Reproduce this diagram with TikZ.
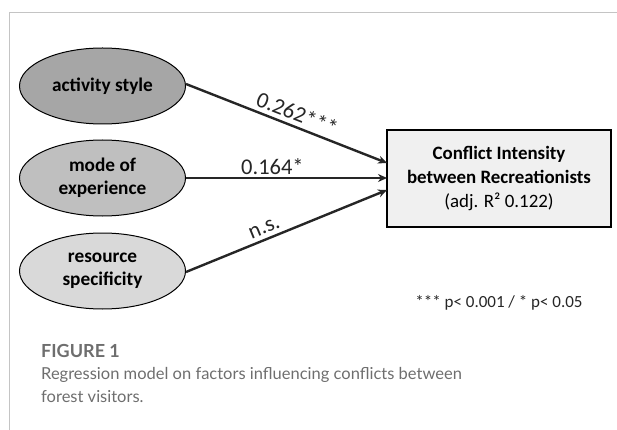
\documentclass[tikz,border=0pt]{standalone}
\usepackage{fontspec}
\setmainfont{Carlito}
\newfontfamily\capfont{Lato}
\usetikzlibrary{shapes.geometric,arrows.meta}
\definecolor{frame}{HTML}{C4C4C4}
\definecolor{ink}{HTML}{262626}
\definecolor{capgray}{HTML}{6E6E6E}
\begin{document}
\begin{tikzpicture}[x=1pt,y=-1pt,
  factor/.style={ellipse,draw=black,line width=1pt,minimum width=166pt,minimum height=76pt,inner sep=0pt,align=center,font=\fontsize{19.3}{23}\selectfont\bfseries},
  path/.style={draw=ink,line width=2.4pt,-{Stealth[length=9pt,width=8pt]}},
  coef/.style={font=\fontsize{22.5}{24}\selectfont,text=ink,inner sep=1pt}]
\useasboundingbox (0,0) rectangle (617,430);
\draw[frame,line width=1pt] (9,430) -- (9,13) -- (617,13);
\node[factor,fill=black!35] (act) at (102.5,86) {activity style};
\node[factor,fill=black!25] (mode) at (102.5,178) {mode of\\experience};
\node[factor,fill=black!15] (res) at (102.5,271) {resource\\specificity};
\node[draw=black,line width=2pt,fill=black!6,minimum width=224pt,minimum height=97pt,align=center,font=\fontsize{18.9}{24}\selectfont] (dv) at (499,178.5)
  {\textbf{Conflict Intensity}\\\textbf{between Recreationists}\\(adj. R² 0.122)};
\coordinate (s1) at (186,84);
\coordinate (s3) at (186,272);
\coordinate (t1) at (387,163);
\coordinate (t2) at (387,178);
\coordinate (t3) at (387,190);
\draw[path] (s1) -- (t1) node[coef,pos=0.53,above=3pt,sloped] {0.262***};
\draw[path] (mode.east) -- (t2) node[coef,pos=0.43,above=1pt] {0.164*};
\draw[path] (s3) -- (t3) node[coef,pos=0.41,above=3pt,sloped] {n.s.};
\node[font=\fontsize{17}{20}\selectfont,text=ink] (leg) at (499,303) {*** p< 0.001 / * p< 0.05};
\node[anchor=west,font=\capfont\bfseries\fontsize{18}{22}\selectfont,text=capgray,inner sep=0pt] (fig) at (41,351) {FIGURE 1};
\node[anchor=north west,align=left,font=\capfont\fontsize{16.5}{23}\selectfont,text=capgray,inner sep=0pt] (cap) at (41,367)
  {Regression model on factors influencing conflicts between\\forest visitors.};
\end{tikzpicture}
\end{document}
